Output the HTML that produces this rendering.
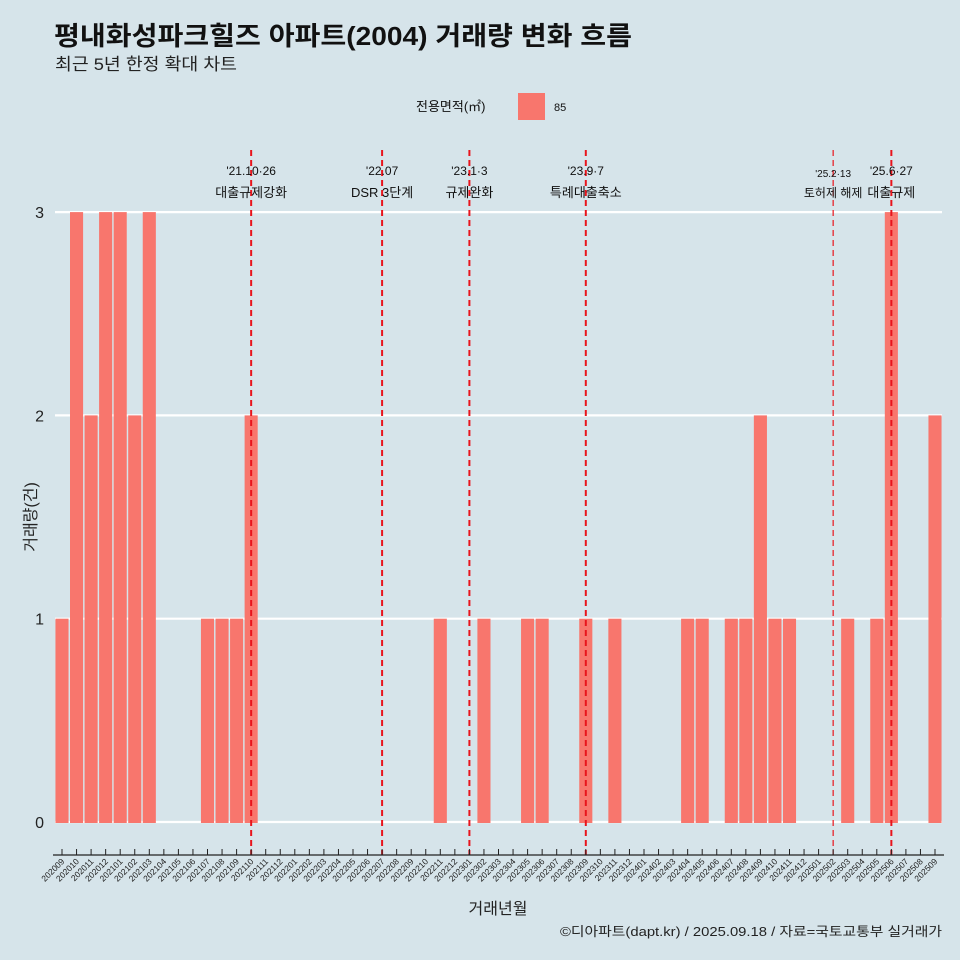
<!DOCTYPE html>
<html><head><meta charset="utf-8">
<style>
html,body{margin:0;padding:0;background:#d6e4ea;}
svg{display:block;font-family:"Liberation Sans","Noto Sans CJK KR",sans-serif;}
</style></head>
<body>
<svg id="chart" width="960" height="960" viewBox="0 0 960 960">
<rect width="960" height="960" fill="#d6e4ea"/>
<text x="54" y="45" font-size="26" font-weight="bold" fill="#111" textLength="578" lengthAdjust="spacingAndGlyphs">평내화성파크힐즈 아파트(2004) 거래량 변화 흐름</text>
<text x="55" y="70" font-size="17" fill="#222" textLength="182" lengthAdjust="spacingAndGlyphs">최근 5년 한정 확대 차트</text>
<g>
<text x="416" y="111" font-size="13" fill="#111">전용면적(㎡)</text>
<rect x="518" y="93" width="27" height="27" fill="#f8766d"/>
<text x="554" y="111" font-size="11" fill="#111">85</text>
</g>
<g id="grid"></g><g id="bars"></g><g id="vlines"></g><g id="xaxis"></g><g id="yaxis"></g>
<text x="0" y="0" transform="translate(36,517) rotate(-90)" text-anchor="middle" font-size="16" fill="#222">거래량(건)</text>
<text x="498" y="914" text-anchor="middle" font-size="16" fill="#222">거래년월</text>
<text x="942" y="936" text-anchor="end" font-size="13" fill="#222" textLength="382" lengthAdjust="spacingAndGlyphs">©디아파트(dapt.kr) / 2025.09.18 / 자료=국토교통부 실거래가</text>
</svg>
<script>
const categories=[];
for(let y=2020,m=9;y<2025||(y===2025&&m<=9);){categories.push(y+String(m).padStart(2,'0'));m++;if(m>12){m=1;y++;}}
const values=[1,3,2,3,3,2,3,0,0,0,1,1,1,2,0,0,0,0,0,0,0,0,0,0,0,0,1,0,0,1,0,0,1,1,0,0,1,0,1,0,0,0,0,1,1,0,1,1,2,1,1,0,0,0,1,0,1,3,0,0,2];
const yTicks=[0,1,2,3];
const eventMonths=["202110","202207","202301","202309","202502","202506"];
const eventDates=["'21.10·26","'22.07","'23.1·3","'23.9·7","'25.2·13","'25.6·27"];
const eventLabels=["대출규제강화","DSR 3단계","규제완화","특례대출축소","토허제 해제","대출규제"];
const ns="http://www.w3.org/2000/svg";
function mk(t,a,p){const e=document.createElementNS(ns,t);for(const k in a)e.setAttribute(k,a[k]);p.appendChild(e);return e;}
const x0=62,step=(935-62)/60;
const xs=i=>x0+step*i;
const ys=v=>822-203.3*v;
const grid=document.getElementById('grid');
yTicks.forEach(t=>{
 const l=mk('line',{x1:55,x2:942,y1:ys(t),y2:ys(t),stroke:'#fff','stroke-width':2.2},grid);
 
 
 const tx=mk('text',{x:44,y:ys(t)+6,'text-anchor':'end','font-size':16,fill:'#222'},document.getElementById('yaxis'));
 tx.textContent=t;
 
 
});
const bars=document.getElementById('bars');
values.forEach((v,i)=>{
 if(v<=0)return;
 const bw=step*0.9;
 const r=mk('rect',{x:xs(i)-bw/2,y:ys(v),width:bw,height:ys(0)-ys(v)+1,fill:'#f8766d'},bars);
 
 
});
const vl=document.getElementById('vlines');
eventMonths.forEach((m,k)=>{
 const i=categories.indexOf(m);const x=xs(i);
 const thin=m==="202502";
 const l=mk('line',{x1:x,x2:x,y1:150,y2:855,stroke:'#e8141c','stroke-width':thin?1.2:2,'stroke-dasharray':'6,4'},vl);
 
 
 const fs=thin?11:13;
 const t1=mk('text',{x:x,y:thin?177:175,'text-anchor':'middle','font-size':fs-1,fill:'#111'},vl);
 t1.textContent=eventDates[k];
 
 
 const t2=mk('text',{x:x,y:197,'text-anchor':'middle','font-size':thin?12:13,fill:'#111'},vl);
 t2.textContent=eventLabels[k];
 
 
});
const xa=document.getElementById('xaxis');
const ax=mk('line',{x1:53,x2:944,y1:855,y2:855,stroke:'#222','stroke-width':1.2},xa);


categories.forEach((c,i)=>{
 const x=xs(i);
 const tk=mk('line',{x1:x,x2:x,y1:849,y2:855,stroke:'#222','stroke-width':1},xa);
 
 
 const t=mk('text',{x:0,y:0,transform:`translate(${x+3},${862}) rotate(-45)`,'text-anchor':'end','font-size':8.5,fill:'#222'},xa);
 t.textContent=c;
 
 
});
</script>
</body></html>
